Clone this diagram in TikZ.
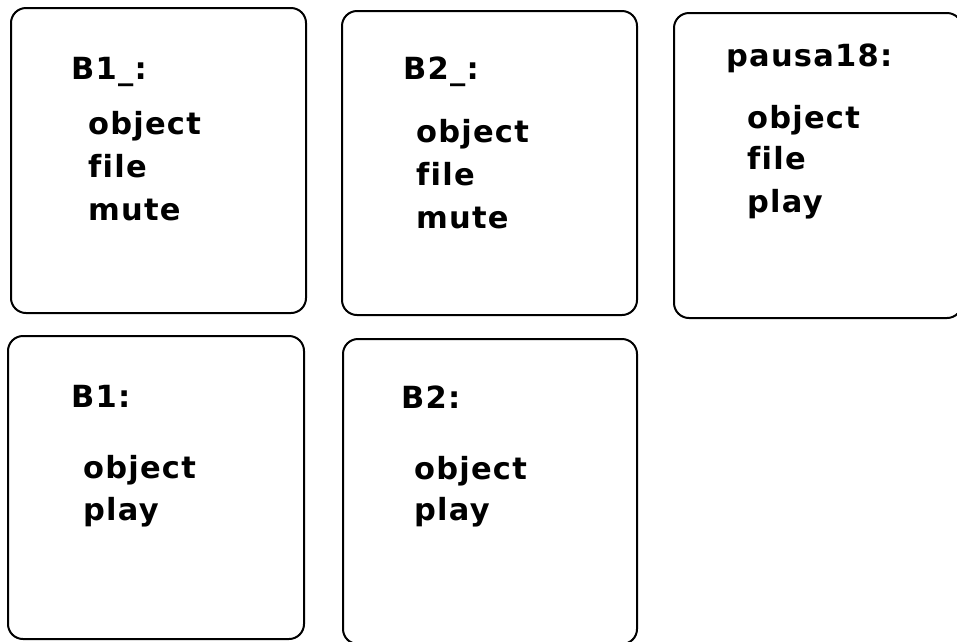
\documentclass[tikz,border=0pt]{standalone}
\usepackage{fontspec}
\setmainfont{DejaVu Sans}[BoldFont={DejaVu Sans Bold},Ligatures=NoCommon,LetterSpace=4]
\begin{document}
\begin{tikzpicture}[x=1pt,y=-1pt,
  card/.style={draw=black,line width=2pt,rounded corners=15pt},
  lbl/.style={anchor=base west,inner sep=0pt,font=\fontsize{30.5}{30}\selectfont\bfseries}]
\useasboundingbox (0,0) rectangle (957,641);
% frames
\draw[card] (11,8) rectangle (306,313);
\draw[card] (342,11) rectangle (637,315);
\draw[card] (674,13) rectangle (962,318);
\draw[card] (8,336) rectangle (304,639);
\draw[card] (343,339) rectangle (637,644);
% B1_
\node[lbl] (t1) at (71,79) {B1\_:};
\node[lbl] (t1a) at (88,134) {object};
\node[lbl] (t1b) at (88,177) {file};
\node[lbl] (t1c) at (88,220) {mute};
% B2_
\node[lbl] (t2) at (403,79) {B2\_:};
\node[lbl] (t2a) at (416,142) {object};
\node[lbl] (t2b) at (416,185) {file};
\node[lbl] (t2c) at (416,228) {mute};
% pausa18
\node[lbl] (t3) at (726,66) {pausa18:};
\node[lbl] (t3a) at (747,128) {object};
\node[lbl] (t3b) at (747,169) {file};
\node[lbl] (t3c) at (747,212) {play};
% B1
\node[lbl] (t4) at (71,407) {B1:};
\node[lbl] (t4a) at (83,478) {object};
\node[lbl] (t4b) at (83,520) {play};
% B2
\node[lbl] (t5) at (401,408) {B2:};
\node[lbl] (t5a) at (414,479) {object};
\node[lbl] (t5b) at (414,520) {play};
\end{tikzpicture}
\end{document}
